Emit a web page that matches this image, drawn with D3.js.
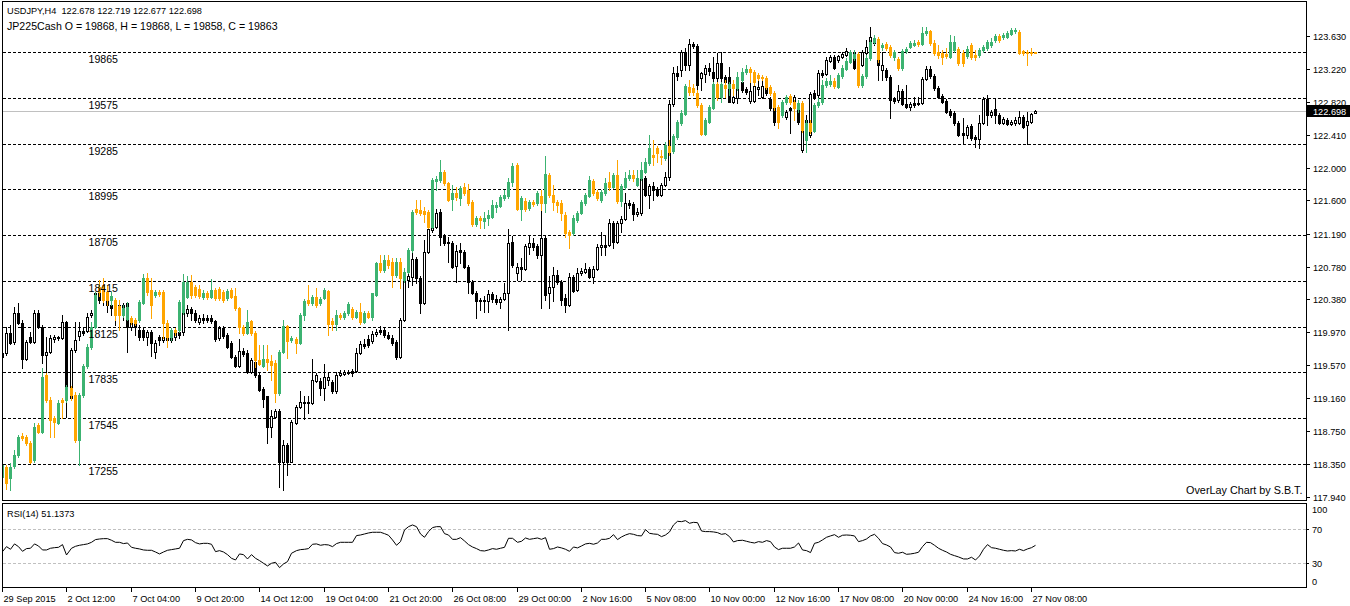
<!DOCTYPE html>
<html><head><meta charset="utf-8">
<script src="https://cdn.jsdelivr.net/npm/d3@7"></script>
<style>
html,body{margin:0;padding:0;background:#fff;}
svg{display:block;font-family:"Liberation Sans",Arial,sans-serif;}
</style></head><body>
<svg id="chart" width="1350" height="606"></svg>
<script>
// ---------- DATA ----------
const timeLabels=["29 Sep 2015","2 Oct 12:00","7 Oct 04:00","9 Oct 20:00","14 Oct 12:00","19 Oct 04:00","21 Oct 20:00","26 Oct 08:00","29 Oct 00:00","2 Nov 16:00","5 Nov 08:00","10 Nov 00:00","12 Nov 16:00","17 Nov 08:00","20 Nov 00:00","24 Nov 16:00","27 Nov 08:00"];
const labelEvery=16;
const usdTicks=["123.630","123.220","122.820","122.410","122.000","121.600","121.190","120.780","120.380","119.970","119.570","119.160","118.750","118.350","117.940"];
const jpLevels=[19865,19575,19285,18995,18705,18415,18125,17835,17545,17255];
const rsiLevels=[70,30];
const rsiTickLabels=["100","70","30","0"];

const usdOpen=[119.67,119.71,119.96,119.85,120.21,120.09,119.64,119.91,119.85,120.21,
120.04,119.69,119.73,119.89,119.90,119.90,120.10,119.16,119.75,119.93,
119.99,119.99,120.18,120.21,120.46,120.37,120.42,120.31,120.30,120.25,
120.31,120.33,120.04,120.09,120.00,120.00,119.91,119.98,119.73,119.91,
119.88,119.91,119.88,119.91,119.98,119.98,120.21,120.26,120.21,120.10,
120.15,120.15,120.15,120.11,119.90,120.02,119.94,119.84,119.67,119.56,
119.74,119.71,119.48,119.60,119.44,119.27,119.18,118.80,118.93,119.00,
118.37,118.58,118.37,118.85,119.05,119.11,119.11,119.10,119.37,119.37,
119.28,119.38,119.36,119.24,119.44,119.46,119.47,119.49,119.49,119.71,
119.83,119.89,119.86,119.95,120.00,120.00,119.94,119.90,119.85,119.67,
120.12,120.62,120.65,120.88,120.64,120.33,120.96,121.23,121.27,121.46,
121.16,121.09,121.07,120.79,120.99,120.96,120.78,120.59,120.46,120.36,
120.36,120.36,120.44,120.38,120.35,120.38,120.46,121.09,120.70,120.78,
120.75,121.02,121.07,121.04,120.93,121.14,120.46,120.53,120.68,120.59,
120.40,120.31,120.65,120.49,120.70,120.72,120.75,120.65,120.75,121.02,
121.05,121.05,121.32,121.09,121.32,121.37,121.57,121.56,121.43,121.45,
121.88,121.67,121.78,121.74,121.67,121.79,121.89,122.79,123.17,123.21,
123.43,123.27,123.53,123.51,123.11,123.16,123.23,123.19,123.11,123.30,
123.12,123.12,122.81,122.86,123.06,122.98,122.83,122.83,122.98,122.88,
122.99,122.85,122.74,122.70,122.81,122.63,122.74,122.80,122.77,122.22,
122.49,122.41,122.93,122.90,123.17,123.16,123.32,123.37,123.33,123.37,
123.40,123.41,123.43,123.25,123.27,123.42,123.42,123.61,123.43,123.21,
123.21,123.12,122.85,122.84,122.95,122.79,122.75,122.80,122.79,122.80,
123.10,123.22,123.14,122.99,122.89,122.83,122.70,122.68,122.56,122.43,
122.41,122.52,122.38,122.36,122.56,122.85,122.65,122.73,122.65,122.56,
122.59,122.54,122.56,122.56,122.63,122.53,122.57,122.678];
const usdHigh=[119.81,120.04,120.06,120.28,120.33,120.12,119.88,119.98,120.25,120.25,
120.06,119.91,119.94,119.94,119.93,120.18,120.11,119.78,120.10,120.10,
120.02,120.21,120.25,120.47,120.49,120.47,120.44,120.37,120.33,120.37,
120.33,120.33,120.12,120.12,120.06,120.02,120.00,120.00,119.88,119.94,
119.96,120.00,120.00,120.04,120.06,120.25,120.31,120.28,120.25,120.18,
120.20,120.18,120.18,120.12,120.05,120.05,119.96,119.86,119.69,119.89,
119.78,119.75,119.65,119.63,119.47,119.30,119.19,119.01,119.02,119.02,
118.64,118.61,118.89,119.07,119.24,119.18,119.19,119.64,119.47,119.41,
119.58,119.48,119.38,119.48,119.51,119.51,119.51,119.52,119.78,119.86,
119.89,119.94,119.99,120.01,120.05,120.02,119.98,119.94,119.88,120.15,
120.64,120.74,121.01,120.90,120.67,121.11,121.36,121.31,121.49,121.49,
121.19,121.15,121.10,121.05,121.07,120.99,120.80,120.62,120.48,120.40,
120.42,120.49,120.47,120.43,120.41,120.58,121.25,121.16,120.83,120.89,
121.06,121.16,121.14,121.06,121.48,121.16,120.67,120.78,120.74,120.62,
120.44,120.70,120.68,120.77,120.77,120.83,120.78,120.79,121.06,121.21,
121.17,121.37,121.35,121.35,121.41,121.69,121.61,121.58,121.51,121.90,
121.90,121.80,121.83,121.77,121.81,121.95,122.84,123.25,123.26,123.46,
123.48,123.59,123.56,123.53,123.19,123.27,123.30,123.37,123.42,123.43,
123.15,123.25,122.90,123.19,123.09,123.00,123.05,123.09,123.11,123.11,
123.01,122.88,122.77,122.74,122.84,122.72,122.75,122.90,122.79,122.62,
122.65,122.94,122.96,123.21,123.21,123.37,123.40,123.40,123.40,123.43,
123.48,123.46,123.46,123.40,123.46,123.58,123.74,123.64,123.46,123.43,
123.23,123.15,122.88,123.02,122.98,123.02,122.81,122.88,122.88,123.12,
123.26,123.26,123.16,123.01,122.91,122.85,122.73,122.70,122.58,122.62,
122.53,122.54,122.41,122.65,122.88,122.90,122.72,122.86,122.68,122.63,
122.62,122.59,122.63,122.70,122.65,122.69,122.68,122.719];
const usdLow=[119.51,119.69,119.83,119.83,120.07,119.53,119.63,119.84,119.84,120.02,
119.59,119.47,119.71,119.85,119.88,119.89,118.93,119.14,119.73,119.88,
119.94,119.98,120.16,120.20,120.33,120.31,120.22,120.18,120.06,120.22,
120.12,119.73,120.00,119.94,119.88,119.88,119.81,119.68,119.65,119.81,
119.85,119.83,119.85,119.88,119.90,119.94,120.17,120.12,120.10,120.07,
120.09,120.10,120.09,119.86,119.88,119.90,119.78,119.65,119.54,119.54,
119.68,119.47,119.47,119.42,119.25,119.05,118.61,118.68,118.91,118.06,
118.02,118.21,118.37,118.84,119.04,118.90,118.97,119.09,119.36,119.20,
119.14,119.32,119.22,119.22,119.43,119.44,119.46,119.43,119.48,119.70,
119.78,119.79,119.84,119.93,119.95,119.91,119.89,119.81,119.64,119.65,
120.11,120.53,120.56,120.58,120.21,120.32,120.95,121.21,121.26,121.05,
121.05,120.84,120.77,120.59,120.83,120.77,120.46,120.44,120.15,120.25,
120.22,120.22,120.35,120.32,120.27,120.37,120.00,120.78,120.62,120.62,
120.74,120.94,120.99,120.89,120.27,120.37,120.27,120.36,120.57,120.31,
120.22,120.30,120.47,120.48,120.68,120.70,120.64,120.58,120.74,120.93,
120.93,121.04,121.01,121.07,121.21,121.36,121.51,121.36,121.41,121.42,
121.65,121.51,121.61,121.65,121.65,121.78,121.85,122.77,123.09,123.14,
123.21,123.21,123.48,122.94,122.96,123.06,123.15,123.02,123.00,122.96,
123.02,122.81,122.80,122.80,122.94,122.91,122.80,122.81,122.90,122.86,
122.90,122.72,122.53,122.56,122.63,122.61,122.43,122.78,122.54,122.20,
122.44,122.38,122.85,122.88,123.12,123.15,123.31,123.22,123.31,123.36,
123.38,123.40,123.22,123.21,123.26,123.40,123.40,123.52,123.09,123.09,
123.09,122.62,122.80,122.81,122.78,122.74,122.72,122.75,122.78,122.79,
123.09,123.11,122.96,122.86,122.80,122.68,122.63,122.53,122.40,122.31,
122.37,122.35,122.26,122.25,122.54,122.53,122.63,122.56,122.54,122.54,
122.53,122.53,122.53,122.54,122.49,122.30,122.56,122.677];
const usdClose=[119.71,119.96,119.84,120.21,120.09,119.64,119.85,119.85,120.21,120.04,
119.69,119.73,119.90,119.91,119.91,120.10,119.16,119.75,119.88,119.99,
119.96,120.16,120.21,120.46,120.37,120.43,120.31,120.27,120.25,120.31,
120.18,120.04,120.09,120.04,119.91,119.91,119.98,119.84,119.84,119.88,
119.91,119.88,119.98,119.98,119.94,120.21,120.26,120.21,120.12,120.15,
120.12,120.12,120.11,119.89,120.02,119.93,119.79,119.67,119.56,119.74,
119.70,119.48,119.63,119.44,119.26,119.15,118.80,118.94,119.00,118.37,
118.58,118.37,118.86,119.05,119.11,119.10,119.10,119.38,119.44,119.28,
119.42,119.42,119.24,119.44,119.47,119.48,119.48,119.47,119.71,119.83,
119.80,119.81,119.95,119.98,119.98,119.94,119.90,119.84,119.67,120.12,
120.62,120.67,120.88,120.64,120.33,120.96,121.25,121.27,121.45,121.15,
121.07,121.07,120.78,120.98,120.96,120.78,120.59,120.46,120.36,120.37,
120.37,120.44,120.38,120.35,120.38,120.46,121.07,120.80,120.78,120.75,
121.04,121.07,121.02,120.93,121.14,120.43,120.53,120.68,120.59,120.37,
120.31,120.65,120.48,120.70,120.73,120.75,120.65,120.75,121.02,121.05,
121.02,121.32,121.09,121.32,121.37,121.57,121.54,121.43,121.46,121.88,
121.67,121.78,121.73,121.67,121.79,121.89,122.79,123.17,123.14,123.43,
123.27,123.53,123.51,123.02,123.17,123.23,123.20,123.11,123.30,123.11,
123.06,122.81,122.88,123.02,122.96,122.94,122.95,123.01,123.00,123.01,
122.93,122.74,122.57,122.58,122.65,122.69,122.72,122.88,122.57,122.53,
122.59,122.91,122.88,123.17,123.15,123.33,123.37,123.23,123.38,123.41,
123.45,123.43,123.23,123.33,123.43,123.49,123.62,123.54,123.27,123.27,
123.12,122.84,122.83,122.95,122.79,122.75,122.79,122.78,122.80,123.10,
123.22,123.14,122.99,122.88,122.81,122.69,122.65,122.56,122.41,122.41,
122.51,122.37,122.36,122.56,122.85,122.65,122.69,122.65,122.56,122.61,
122.54,122.57,122.59,122.63,122.51,122.58,122.67,122.698];

const jpOpen=[17173,17236,17166,17242,17311,17432,17426,17388,17280,17502,
17457,17818,17660,17546,17515,17660,17660,17736,17692,17407,
17692,17876,17997,18123,18377,18389,18345,18294,18294,18256,
18199,18174,18180,18167,18167,18275,18433,18358,18326,18345,
18345,18148,18060,18104,18104,18218,18314,18408,18377,18364,
18314,18339,18314,18358,18364,18345,18307,18358,18320,18243,
18123,18085,18161,18085,17914,17876,17920,17908,17895,17705,
17964,18129,18041,18047,18022,18199,18294,18275,18314,18275,
18307,18352,18161,18142,18199,18187,18212,18237,18187,18218,
18154,18212,18187,18326,18529,18484,18548,18535,18452,18535,
18421,18472,18611,18871,18865,18859,18852,18757,19049,19055,
19105,19036,18935,18973,18941,19011,18992,18915,18776,18814,
18795,18814,18821,18884,18890,18941,18954,19042,19150,18871,
18922,18877,18915,18909,18954,18909,19086,18960,18915,18909,
18833,18725,18719,18801,18846,18909,18954,19049,18979,18928,
18973,19042,19011,19086,18922,19011,19067,19086,19023,19067,
19105,19163,19213,19258,19207,19194,19271,19239,19328,19416,
19474,19645,19638,19607,19530,19347,19422,19511,19664,19582,
19657,19638,19664,19638,19689,19739,19759,19739,19720,19708,
19701,19645,19607,19518,19467,19549,19588,19549,19505,19543,
19309,19416,19366,19530,19549,19657,19664,19683,19645,19714,
19759,19803,19828,19854,19657,19714,19828,19929,19949,19898,
19917,19898,19835,19822,19765,19873,19898,19910,19929,19917,
19987,20000,19923,19866,19860,19854,19835,19879,19885,19860,
19841,19910,19847,19847,19879,19891,19910,19942,19968,19961,
19961,19981,20000,19993,19873,19866,19866,19868];
const jpHigh=[17261,17248,17261,17343,17438,17451,17438,17401,17515,17515,
17863,17831,17680,17559,17660,17673,17755,17749,17711,17705,
17889,18016,18154,18345,18421,18433,18389,18345,18307,18294,
18262,18281,18193,18180,18294,18459,18465,18433,18358,18358,
18358,18167,18116,18116,18294,18459,18446,18452,18389,18389,
18358,18352,18427,18370,18377,18358,18364,18370,18370,18250,
18135,18231,18167,18098,18009,18009,18009,17946,17914,17977,
18167,18135,18066,18060,18212,18301,18389,18326,18370,18314,
18370,18358,18180,18231,18212,18225,18281,18250,18231,18275,
18225,18225,18339,18535,18579,18579,18579,18560,18560,18560,
18497,18624,18865,18928,18928,18884,18865,19067,19080,19182,
19118,19042,19023,19011,19017,19036,19030,18928,18827,18827,
18852,18865,18928,18915,18960,18992,19067,19163,19163,18954,
18941,18928,18928,18986,18992,19207,19099,19023,18928,18928,
18852,18738,18833,18859,18928,18973,19080,19061,18992,18992,
19067,19105,19099,19182,19030,19105,19118,19118,19118,19169,
19194,19340,19309,19271,19245,19296,19309,19347,19435,19499,
19664,19689,19664,19626,19543,19448,19530,19677,19677,19677,
19689,19677,19689,19739,19765,19784,19772,19752,19733,19720,
19714,19657,19620,19530,19562,19594,19601,19562,19562,19556,
19435,19435,19543,19575,19689,19701,19720,19701,19733,19784,
19828,19879,19879,19866,19727,19847,19942,19974,19961,19923,
19929,19910,19879,19835,19885,19898,19936,19942,19942,20025,
20025,20006,19942,19910,19879,19891,19974,19968,19898,19879,
19904,19923,19879,19891,19910,19942,19955,19981,19981,19987,
20000,20019,20019,20006,19879,19879,19891,19868];
const jpLow=[17153,17096,17090,17229,17299,17407,17375,17261,17267,17451,
17451,17647,17426,17426,17508,17546,17647,17660,17394,17248,
17680,17863,17984,18116,18320,18281,18262,18262,18167,18104,
18187,18167,18142,18135,18154,18269,18326,18180,18314,18320,
18053,17997,18041,18072,18091,18206,18307,18307,18314,18307,
18301,18301,18307,18294,18294,18281,18294,18307,18231,18085,
18072,18079,18072,17870,17882,17870,17850,17787,17647,17692,
17958,17926,18028,17958,18016,18167,18262,18262,18250,18262,
18301,18072,18104,18104,18174,18174,18199,18174,18180,18142,
18148,18180,18167,18320,18472,18472,18497,18377,18440,18370,
18408,18465,18598,18840,18833,18788,18750,18750,18992,19042,
19023,18922,18865,18928,18896,18960,18896,18763,18763,18750,
18750,18769,18814,18852,18884,18928,18941,19017,18865,18801,
18859,18865,18890,18896,18865,18852,18948,18865,18852,18801,
18694,18624,18706,18788,18840,18896,18948,18960,18928,18915,
18960,18992,19004,18909,18890,18998,19055,19049,19017,19055,
19099,19150,19150,19169,19157,19182,19213,19226,19315,19403,
19467,19594,19594,19518,19340,19340,19416,19505,19562,19549,
19582,19594,19594,19626,19677,19727,19677,19657,19689,19689,
19632,19594,19499,19384,19455,19537,19537,19435,19486,19359,
19232,19353,19359,19518,19537,19645,19651,19638,19638,19701,
19752,19797,19816,19645,19645,19701,19816,19917,19803,19879,
19879,19835,19816,19752,19752,19860,19891,19904,19904,19910,
19974,19910,19847,19828,19791,19828,19828,19866,19784,19778,
19828,19822,19816,19835,19866,19879,19898,19929,19929,19949,
19955,19974,19987,19854,19847,19784,19847,19858];
const jpClose=[17248,17134,17236,17311,17425,17419,17388,17267,17490,17457,
17806,17660,17534,17521,17641,17647,17743,17692,17407,17692,
17876,17997,18123,18326,18345,18294,18294,18320,18199,18199,
18243,18250,18154,18148,18281,18433,18345,18262,18345,18333,
18148,18060,18104,18091,18281,18408,18408,18326,18326,18320,
18339,18314,18358,18307,18307,18294,18352,18314,18243,18123,
18085,18154,18085,17914,17889,17920,17901,17882,17705,17964,
18129,18035,18053,18022,18199,18288,18275,18314,18262,18301,
18358,18142,18142,18199,18187,18212,18269,18187,18218,18154,
18212,18187,18339,18529,18484,18548,18516,18452,18535,18433,
18472,18611,18852,18852,18846,18840,18757,19055,19061,19105,
19036,18928,18973,18948,19004,18973,18909,18776,18814,18801,
18814,18833,18896,18896,18948,18960,19042,19144,18871,18941,
18871,18915,18903,18973,18909,19093,18960,18915,18896,18846,
18719,18706,18814,18846,18915,18960,19055,18973,18941,18979,
19036,19011,19086,18922,19017,19067,19086,19067,19067,19118,
19169,19258,19201,19226,19201,19277,19232,19334,19422,19480,
19651,19613,19613,19530,19347,19435,19518,19664,19582,19664,
19638,19664,19638,19708,19739,19759,19739,19677,19701,19701,
19645,19607,19518,19422,19549,19582,19549,19511,19543,19372,
19416,19366,19530,19549,19657,19683,19683,19651,19720,19765,
19810,19866,19854,19657,19714,19828,19929,19955,19822,19910,
19891,19847,19866,19765,19873,19885,19923,19923,19917,19987,
20000,19923,19860,19847,19835,19841,19929,19929,19797,19797,
19885,19835,19835,19879,19898,19929,19929,19968,19942,19974,
19987,20006,20006,19860,19860,19860,19860,19863];

const rsiValues=[43.7,49.6,46.5,52.8,49.6,44.1,47.3,47.7,52.8,50.4,
45.7,45.7,47.7,48.4,48.8,52.0,39.8,47.7,50.0,51.2,
52.0,52.8,54.7,57.9,58.6,59.0,59.0,57.1,54.7,54.7,
53.2,53.9,48.8,47.7,46.9,45.7,45.3,45.3,43.3,41.0,
43.3,45.3,46.1,46.9,47.7,56.7,58.2,57.5,54.3,52.8,
53.5,53.5,52.4,43.7,44.9,43.3,40.2,35.9,33.9,41.0,
40.2,35.1,40.2,35.9,33.2,30.0,26.9,30.0,31.2,24.9,
29.2,32.0,41.8,44.9,46.1,46.5,47.3,52.4,52.8,51.2,
52.0,51.6,49.6,53.2,54.7,54.7,54.7,54.7,62.6,63.3,
64.5,65.7,66.5,66.5,66.5,64.9,63.0,57.5,51.2,55.5,
69.2,73.1,75.1,73.1,64.5,60.6,67.3,72.0,73.1,73.1,
64.9,63.3,58.2,58.2,60.2,56.3,52.0,49.2,47.3,44.9,
44.5,45.7,47.3,46.5,47.7,48.8,59.4,59.4,54.7,55.9,
59.8,58.2,59.0,59.8,58.2,60.2,46.5,47.3,49.2,48.1,
46.5,44.1,49.2,48.1,50.4,52.8,53.5,52.4,53.9,58.2,
58.2,59.4,63.7,57.9,61.0,63.3,64.9,64.1,62.6,62.2,
69.6,65.3,64.5,64.1,61.4,63.3,66.9,75.1,79.4,79.0,
80.2,77.1,78.2,77.8,68.0,67.3,67.3,66.9,66.1,64.1,
64.9,61.4,55.1,56.7,57.1,55.9,54.7,53.9,55.5,54.7,
56.7,55.5,49.2,46.1,47.7,47.7,47.7,49.2,53.9,45.7,
44.9,42.6,53.5,54.7,57.5,60.6,62.2,63.7,60.6,63.0,
63.3,63.0,62.2,55.5,56.7,58.6,62.2,64.1,59.4,53.2,
51.6,49.2,42.6,41.8,43.0,40.6,41.0,41.8,43.0,49.6,
54.7,54.3,51.2,47.7,45.3,43.3,40.6,39.0,37.5,35.1,
35.1,37.1,33.9,38.6,46.5,52.0,48.4,47.7,46.5,45.3,
44.5,44.9,44.5,46.5,44.9,46.9,48.4,51.14];

const titleLine1="USDJPY,H4  122.678 122.719 122.677 122.698";
const titleLine2="JP225Cash O = 19868, H = 19868, L = 19858, C = 19863";
const rsiTitle="RSI(14) 51.1373";
const credit="OverLay Chart by S.B.T.";
const lastPrice=122.698;

// ---------- LAYOUT ----------
const W=1350,H=606;
const L=2.5,R=1306.5,T=1.5,MB=500.5,RT=503.5,RB=587.5;
const green="#3cb371",orange="#ffa500";
const n=usdClose.length;

const svg=d3.select("#chart");
const x=d3.scaleLinear().domain([0,n-1]).range([2.7,2.7+4.018*(n-1)]);
const col=i=>Math.floor(x(i));
const yUsd=d3.scaleLinear().domain([117.94,123.63]).range([496.76,36.03]);
const yJp=d3.scaleLinear().domain([17255,19865]).range([463.95,52.2]);
const yRsi=d3.scaleLinear().domain([0,100]).range([588.8,503.8]);

const defs=svg.append("defs");
defs.append("clipPath").attr("id","mainClip").append("rect").attr("x",3).attr("y",2).attr("width",1303).attr("height",498);
defs.append("clipPath").attr("id","rsiClip").append("rect").attr("x",3).attr("y",504).attr("width",1303).attr("height",83);

const crisp={"shape-rendering":"crispEdges"};

// frames
svg.append("rect").attr("x",L).attr("y",T).attr("width",R-L).attr("height",MB-T).attr("fill","none").attr("stroke","#000").attr("shape-rendering","crispEdges");
svg.append("rect").attr("x",L).attr("y",RT).attr("width",R-L).attr("height",RB-RT).attr("fill","none").attr("stroke","#000").attr("shape-rendering","crispEdges");

const main=svg.append("g").attr("clip-path","url(#mainClip)");

// JP225 dashed levels
main.selectAll("line.lvl").data(jpLevels).join("line")
  .attr("x1",3).attr("x2",1306)
  .attr("y1",d=>Math.round(yJp(d))+0.5).attr("y2",d=>Math.round(yJp(d))+0.5)
  .attr("stroke","#000").attr("stroke-dasharray","3,2").attr("shape-rendering","crispEdges");

// last price line
const lpY=Math.round(yUsd(lastPrice))+0.5;
main.append("line").attr("x1",3).attr("x2",1306).attr("y1",lpY).attr("y2",lpY)
  .attr("stroke","#c0c0c0").attr("shape-rendering","crispEdges");

// USDJPY candles
const idx=d3.range(n);
const gU=main.append("g").attr("shape-rendering","crispEdges");
gU.selectAll("line").data(idx).join("line")
  .attr("x1",i=>col(i)+0.5).attr("x2",i=>col(i)+0.5)
  .attr("y1",i=>Math.round(yUsd(usdHigh[i]))).attr("y2",i=>Math.round(yUsd(usdLow[i]))+1)
  .attr("stroke","#000");
gU.selectAll("rect").data(idx).join("rect")
  .each(function(i){
    const o=Math.round(yUsd(usdOpen[i])),c=Math.round(yUsd(usdClose[i]));
    const top=Math.min(o,c),bot=Math.max(o,c);
    const el=d3.select(this);
    if(usdClose[i]>=usdOpen[i]){
      el.attr("x",col(i)-0.5).attr("y",top+0.5).attr("width",2).attr("height",Math.max(0,bot-top))
        .attr("fill","#fff").attr("stroke","#000");
    } else {
      el.attr("x",col(i)-1).attr("y",top).attr("width",3).attr("height",Math.max(1,bot-top+1))
        .attr("fill","#000");
    }
  });

// JP225 candles
const gJ=main.append("g").attr("shape-rendering","crispEdges");
gJ.selectAll("line").data(idx).join("line")
  .attr("x1",i=>col(i)+0.5).attr("x2",i=>col(i)+0.5)
  .attr("y1",i=>Math.round(yJp(jpHigh[i]))).attr("y2",i=>Math.round(yJp(jpLow[i]))+1)
  .attr("stroke",i=>jpClose[i]>=jpOpen[i]?green:orange);
gJ.selectAll("rect").data(idx).join("rect")
  .attr("x",i=>col(i)-1).attr("width",3)
  .attr("y",i=>Math.round(Math.min(yJp(jpOpen[i]),yJp(jpClose[i]))))
  .attr("height",i=>Math.max(1,Math.round(Math.abs(yJp(jpOpen[i])-yJp(jpClose[i])))+1))
  .attr("fill",i=>jpClose[i]>=jpOpen[i]?green:orange);

// level labels
svg.selectAll("text.lvl").data(jpLevels).join("text")
  .attr("x",88.5).attr("y",d=>Math.round(yJp(d))+11)
  .attr("font-size","10.6px").attr("fill","#000").text(d=>d);

// titles
svg.append("text").attr("x",7).attr("y",14).attr("font-size","9.2px").attr("fill","#000").attr("xml:space","preserve").text(titleLine1);
svg.append("text").attr("x",7).attr("y",29.5).attr("font-size","10.6px").attr("fill","#000").text(titleLine2);
svg.append("text").attr("x",1302.5).attr("y",494).attr("text-anchor","end").attr("font-size","10.8px").attr("fill","#000").text(credit);

// right axis (USDJPY)
const ax=svg.append("g");
usdTicks.forEach(t=>{
  const yy=Math.round(yUsd(+t))+0.5;
  ax.append("line").attr("x1",1307).attr("x2",1310).attr("y1",yy).attr("y2",yy).attr("stroke","#000").attr("shape-rendering","crispEdges");
  ax.append("text").attr("x",1313).attr("y",yy+3.3).attr("font-size","9.2px").attr("fill","#000").text(t);
});
// last price box
svg.append("rect").attr("x",1307).attr("y",lpY-6.5).attr("width",43).attr("height",12).attr("fill","#000");
svg.append("text").attr("x",1313).attr("y",lpY+3.3).attr("font-size","9.2px").attr("fill","#fff").text(lastPrice.toFixed(3));

// RSI panel
const rsiG=svg.append("g").attr("clip-path","url(#rsiClip)");
rsiG.selectAll("line.rl").data(rsiLevels).join("line")
  .attr("x1",3).attr("x2",1306)
  .attr("y1",d=>Math.round(yRsi(d))+0.5).attr("y2",d=>Math.round(yRsi(d))+0.5)
  .attr("stroke","#c0c0c0").attr("stroke-dasharray","3,2").attr("shape-rendering","crispEdges");
const rsiLine=d3.line().x((d,i)=>col(i)+0.5).y(d=>yRsi(d));
rsiG.append("path").attr("d",rsiLine(rsiValues)).attr("fill","none").attr("stroke","#000").attr("stroke-width",1);
svg.append("text").attr("x",7).attr("y",516.5).attr("font-size","9.2px").attr("fill","#000").text(rsiTitle);
// RSI axis labels
const rsiLabelY={"100":510,"70":yRsi(70),"30":yRsi(30),"0":582};
rsiTickLabels.forEach(t=>{
  const yy=rsiLabelY[t];
  if(t==="70"||t==="30"){
    const ly=Math.round(yy)+0.5;
    svg.append("line").attr("x1",1307).attr("x2",1309).attr("y1",ly).attr("y2",ly).attr("stroke","#000").attr("shape-rendering","crispEdges");
  }
  svg.append("text").attr("x",1312).attr("y",yy+3.3).attr("font-size","9.2px").attr("fill","#000").text(t);
});

// time axis
timeLabels.forEach((t,k)=>{
  const i=k*labelEvery;
  const cx=col(i)+0.5;
  svg.append("line").attr("x1",cx).attr("x2",cx).attr("y1",588).attr("y2",592).attr("stroke","#000").attr("shape-rendering","crispEdges");
  svg.append("text").attr("x",cx+1).attr("y",601.5).attr("font-size","9.2px").attr("fill","#000").text(t);
});
</script>
</body></html>
